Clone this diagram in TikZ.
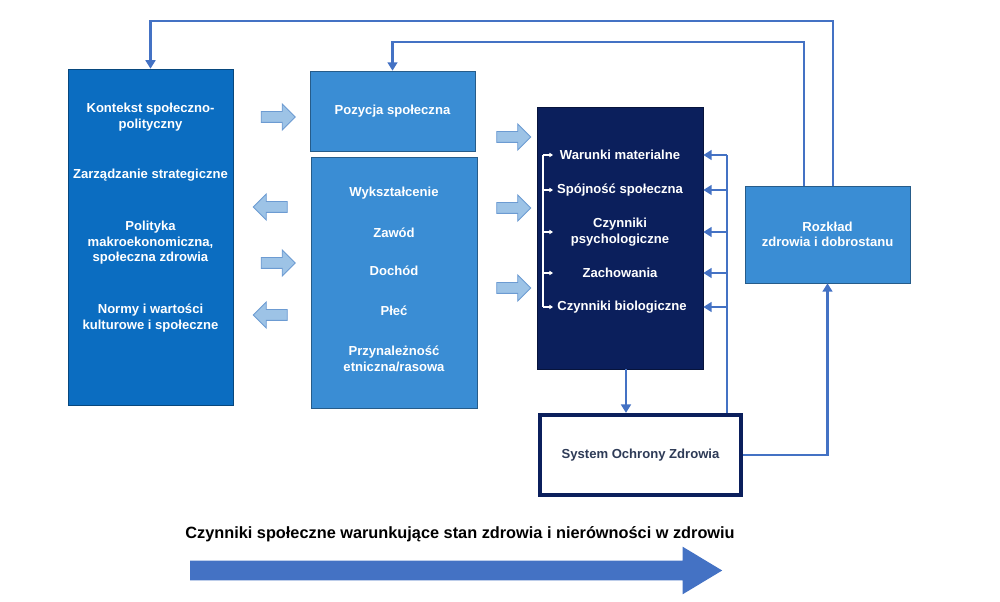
\documentclass[tikz,border=0pt]{standalone}
\usepackage{fontspec}
\setmainfont{Liberation Sans}
\usetikzlibrary{arrows.meta,shapes.arrows}
\definecolor{ctxblue}{HTML}{0B6DC1}
\definecolor{posblue}{HTML}{3A8DD4}
\definecolor{navy}{HTML}{0B1F5C}
\definecolor{linkblue}{HTML}{4472C4}
\definecolor{arrowfill}{HTML}{9DC3E6}
\definecolor{arrowline}{HTML}{6C9BD2}
\definecolor{sysgrey}{HTML}{2E3B57}

\begin{document}
\begin{tikzpicture}[
  x=0.025cm, y=-0.025cm,
  every node/.style={font=\fontsize{9.3}{11}\selectfont\bfseries,text=white,align=center},
  box/.style={rectangle,draw=#1!65!black,fill=#1,inner sep=0pt},
  blockarr/.style={single arrow,draw=arrowline,fill=arrowfill,line width=0.6pt,
    minimum height=0.85cm,inner sep=0.125cm,single arrow head extend=0.19cm},
  link/.style={draw=linkblue,line width=1.5pt,-{Triangle[length=6pt,width=7pt]}},
  tick/.style={draw=white,line width=0.8pt}
]
  \useasboundingbox (0,0) rectangle (1000,602);

  \node[box=ctxblue,minimum width=4.125cm,minimum height=8.4cm] (ctx) at (150.5,237) {};
  \node (ctxa) at (150.5,117) {Kontekst społeczno-\\polityczny};
  \node (ctxb) at (150.5,175) {Zarządzanie strategiczne};
  \node (ctxc) at (150.5,243) {Polityka\\makroekonomiczna,\\społeczna zdrowia};
  \node (ctxd) at (150.5,318) {Normy i wartości\\kulturowe i społeczne};

  \node[box=posblue,minimum width=4.125cm,minimum height=2cm] (pos) at (392.5,111) {Pozycja społeczna};
  \node[box=posblue,minimum width=4.15cm,minimum height=6.275cm] (strata) at (394,282.5) {};
  \node (edu) at (394,193) {Wykształcenie};
  \node (job) at (394,233) {Zawód};
  \node (income) at (394,271) {Dochód};
  \node (sex) at (394,311) {Płeć};
  \node (ethnic) at (394,359) {Przynależność\\etniczna/rasowa};

  \node[box=navy,minimum width=4.15cm,minimum height=6.55cm] (cond) at (620,238) {};
  \node (mat) at (620,155) {Warunki materialne};
  \node (coh) at (620,190) {Spójność społeczna};
  \node (psy) at (620,232) {Czynniki\\psychologiczne};
  \node (beh) at (620,273) {Zachowania};
  \node (bio) at (622,307) {Czynniki biologiczne};

  \node[box=posblue,minimum width=4.125cm,minimum height=2.425cm] (distrib) at (827.5,234.5) {Rozkład\\zdrowia i dobrostanu};
  \node[draw=navy,line width=3pt,fill=white,minimum width=5.025cm,minimum height=2cm,text=sysgrey] (system) at (640.5,455) {System Ochrony Zdrowia};

  \node[blockarr] (ra) at (275.5,117) {};
  \node[blockarr,shape border rotate=180] (la) at (273,207) {};
  \node[blockarr] (rb) at (275.5,263) {};
  \node[blockarr,shape border rotate=180] (lb) at (273,315) {};
  \node[blockarr] (rc) at (511,137) {};
  \node[blockarr] (rd) at (511,208) {};
  \node[blockarr] (re) at (511,288) {};

  \node[font=\fontsize{11.6}{13}\selectfont\bfseries,text=black] (caption) at (460,534)
    {Czynniki społeczne warunkujące stan zdrowia i nierówności w zdrowiu};
  \node[single arrow,fill=linkblue,minimum height=13.3cm,inner sep=0.2375cm,
    single arrow head extend=0.35cm,single arrow tip angle=62] (flow) at (448,570.5) {};

  \coordinate (loopa) at (833,21);
  \coordinate (loopb) at (804,42);
  \coordinate (feed) at (727,0);
  \coordinate (drop) at (626,0);
  \coordinate (brk) at (543,0);
  \coordinate (brkend) at (553,0);

  \draw[link] (distrib.north -| loopa) -- (loopa) -| (ctx.north);
  \draw[link] (distrib.north -| loopb) -- (loopb) -| (pos.north);
  \draw[link] (cond.south -| drop) -- (system.north -| drop);
  \draw[link] (system.east) -| (distrib.south);
  \draw[draw=linkblue,line width=1.5pt] (system.north -| feed) -- (feed |- mat);
  \foreach \n in {mat,coh,psy,beh,bio}
    \draw[link] (feed |- \n) -- (cond.east |- \n);

  \draw[tick] (brk |- mat) -- (brk |- bio);
  \foreach \n in {mat,coh,psy,beh,bio}
    \draw[tick,-{Triangle[length=2.5pt,width=3pt]}] (brk |- \n) -- (brkend |- \n);
\end{tikzpicture}
\end{document}
